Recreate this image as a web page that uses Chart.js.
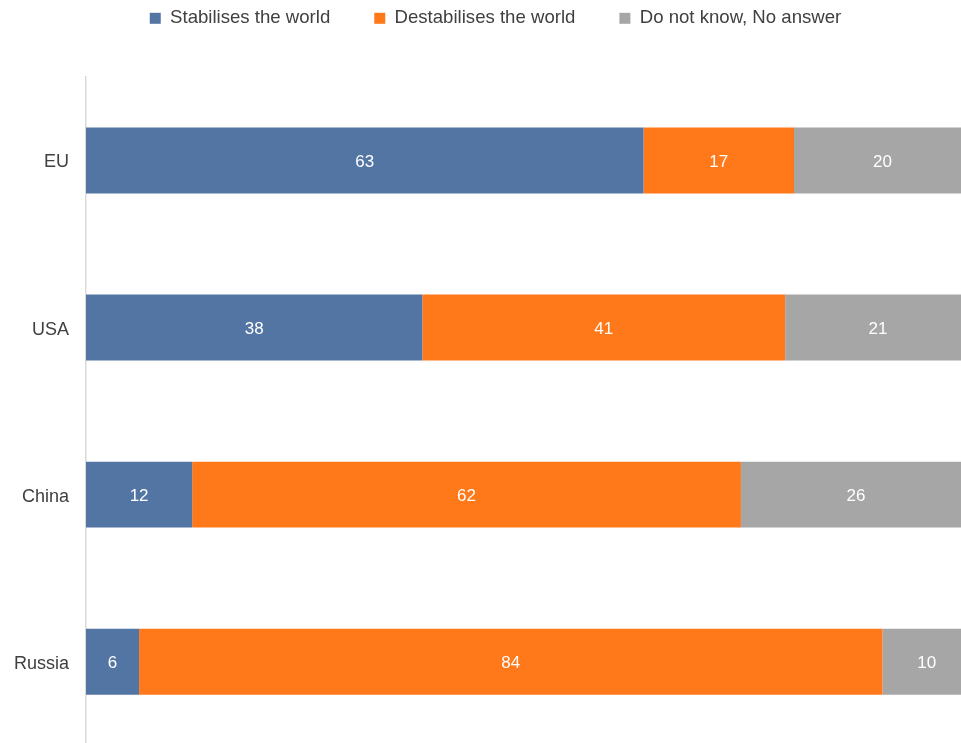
<!DOCTYPE html>
<html>
<head>
<meta charset="utf-8">
<script src="https://cdn.jsdelivr.net/npm/chart.js@4"></script>
<style>
  body { margin: 0; overflow: hidden; background: #fff; }
  #wrap { position: absolute; left: 0; top: 0; width: 972px; height: 773px; }
</style>
</head>
<body>
<div id="wrap"><canvas id="chart"></canvas></div>
<script>
const categories = ['EU', 'USA', 'China', 'Russia'];
const stabilises = [63, 38, 12, 6];
const destabilises = [17, 41, 62, 84];
const dontKnow = [20, 21, 26, 10];

Chart.defaults.font.family = '"Liberation Sans", Arial, sans-serif';
Chart.defaults.font.size = 18;
Chart.defaults.color = '#404040';

// push chart area down below the legend, nudge legend a bit right
const legendGap = {
  id: 'legendGap',
  beforeInit(chart) {
    const fit = chart.legend.fit;
    chart.legend.fit = function () {
      fit.bind(chart.legend)();
      this.height = 112;
    };
  },
  afterLayout(chart) {
    chart.legend.left += 8;
  }
};

// white numbers in the middle of each bar piece
const barLabels = {
  id: 'barLabels',
  afterDatasetsDraw(chart) {
    const ctx = chart.ctx;
    ctx.save();
    ctx.fillStyle = '#fff';
    ctx.font = '17px "Liberation Sans", Arial, sans-serif';
    ctx.textAlign = 'center';
    ctx.textBaseline = 'middle';
    chart.data.datasets.forEach((ds, i) => {
      chart.getDatasetMeta(i).data.forEach((bar, j) => {
        const p = bar.getCenterPoint();
        ctx.fillText(ds.data[j], p.x, p.y + 2);
      });
    });
    ctx.restore();
  }
};

new Chart(document.getElementById('chart'), {
  type: 'bar',
  data: {
    labels: categories,
    datasets: [
      { label: 'Stabilises the world', data: stabilises, backgroundColor: '#5375a3' },
      { label: 'Destabilises the world', data: destabilises, backgroundColor: '#ff781a' },
      { label: 'Do not know, No answer', data: dontKnow, backgroundColor: '#a6a6a6' }
    ]
  },
  options: {
    indexAxis: 'y',
    responsive: true,
    maintainAspectRatio: false,
    animation: false,
    layout: { padding: { top: -35, left: 12, right: 1, bottom: 0 } },
    datasets: { bar: { barPercentage: 0.395, categoryPercentage: 1, borderWidth: 0 } },
    plugins: {
      legend: {
        position: 'top',
        labels: { boxWidth: 11, boxHeight: 11, padding: 44, color: '#404040', font: { size: 18.6 } }
      },
      tooltip: { enabled: false }
    },
    scales: {
      x: { stacked: true, min: 0, max: 100, display: false },
      y: {
        stacked: true,
        grid: { display: false, drawTicks: false },
        border: { display: true, color: '#d9d9d9', width: 1.5 },
        ticks: { padding: 17, labelOffset: 2, color: '#404040' },
        afterFit(scale) { scale.width = 74; }
      }
    }
  },
  plugins: [legendGap, barLabels]
});
</script>
</body>
</html>
